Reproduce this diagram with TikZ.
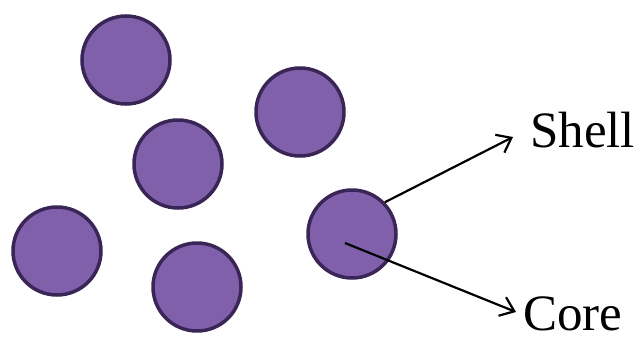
\documentclass[tikz,border=0pt]{standalone}
\usepackage{fontspec}
\setmainfont{Liberation Serif}
\usetikzlibrary{arrows.meta}
\definecolor{pfill}{RGB}{128,96,170}
\definecolor{pdraw}{RGB}{58,38,86}
\begin{document}
\begin{tikzpicture}[x=1pt,y=-1pt,
  particle/.style={circle,fill=pfill,draw=pdraw,line width=3.5pt,minimum size=88pt,inner sep=0pt},
  pointer/.style={line width=2.2pt,-{Straight Barb[length=13pt,width=20pt,line width=2.2pt]}},
  lbl/.style={font=\fontsize{51}{60}\selectfont,inner sep=0pt,anchor=base west}]
\useasboundingbox (0,0) rectangle (644,340);
\node[particle] (c1) at (126,60) {};
\node[particle] (c2) at (300,112) {};
\node[particle] (c3) at (178,164) {};
\node[particle] (c4) at (57,251) {};
\node[particle] (c5) at (197,287) {};
\node[particle] (c6) at (352,234) {};
\node[lbl] (shell) at (530,147) {Shell};
\node[lbl] (core) at (523,330) {Core};
\coordinate (shelltip) at (513,137);
\coordinate (coretip) at (516,312);
\coordinate (corept) at (345,243);
\draw[pointer] (c6.44) -- (shelltip);
\draw[pointer] (corept) -- (coretip);
\end{tikzpicture}
\end{document}
